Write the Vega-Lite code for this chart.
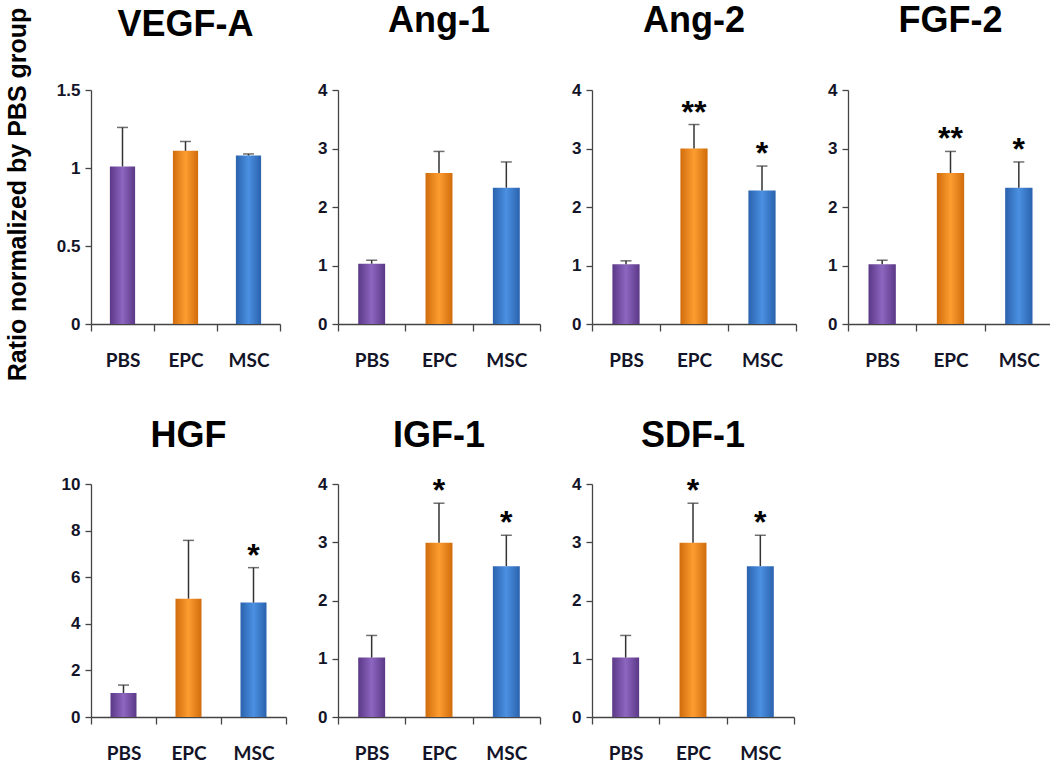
{
  "$schema": "https://vega.github.io/schema/vega-lite/v6.json",
  "autosize": {"type": "pad"},
  "padding": {"left": 4, "top": 3, "right": 4, "bottom": 5},
  "background": "white",
  "data": {"values": [
    {"factor": "VEGF-A", "group": "PBS", "mean": 1.01, "upper": 1.26, "sig": ""},
    {"factor": "VEGF-A", "group": "EPC", "mean": 1.11, "upper": 1.17, "sig": ""},
    {"factor": "VEGF-A", "group": "MSC", "mean": 1.08, "upper": 1.09, "sig": ""},
    {"factor": "Ang-1", "group": "PBS", "mean": 1.03, "upper": 1.09, "sig": ""},
    {"factor": "Ang-1", "group": "EPC", "mean": 2.58, "upper": 2.95, "sig": ""},
    {"factor": "Ang-1", "group": "MSC", "mean": 2.33, "upper": 2.77, "sig": ""},
    {"factor": "Ang-2", "group": "PBS", "mean": 1.02, "upper": 1.08, "sig": ""},
    {"factor": "Ang-2", "group": "EPC", "mean": 3.0, "upper": 3.41, "sig": "**"},
    {"factor": "Ang-2", "group": "MSC", "mean": 2.28, "upper": 2.7, "sig": "*"},
    {"factor": "FGF-2", "group": "PBS", "mean": 1.02, "upper": 1.09, "sig": ""},
    {"factor": "FGF-2", "group": "EPC", "mean": 2.58, "upper": 2.95, "sig": "**"},
    {"factor": "FGF-2", "group": "MSC", "mean": 2.33, "upper": 2.77, "sig": "*"},
    {"factor": "HGF", "group": "PBS", "mean": 1.03, "upper": 1.37, "sig": ""},
    {"factor": "HGF", "group": "EPC", "mean": 5.08, "upper": 7.58, "sig": ""},
    {"factor": "HGF", "group": "MSC", "mean": 4.91, "upper": 6.41, "sig": "*"},
    {"factor": "IGF-1", "group": "PBS", "mean": 1.02, "upper": 1.4, "sig": ""},
    {"factor": "IGF-1", "group": "EPC", "mean": 2.99, "upper": 3.67, "sig": "*"},
    {"factor": "IGF-1", "group": "MSC", "mean": 2.59, "upper": 3.12, "sig": "*"},
    {"factor": "SDF-1", "group": "PBS", "mean": 1.02, "upper": 1.4, "sig": ""},
    {"factor": "SDF-1", "group": "EPC", "mean": 2.99, "upper": 3.67, "sig": "*"},
    {"factor": "SDF-1", "group": "MSC", "mean": 2.59, "upper": 3.12, "sig": "*"}
  ]},
  "config": {
    "view": {"stroke": null},
    "title": {"font": "Liberation Sans", "fontSize": 36, "fontWeight": "bold", "color": "#000000", "anchor": "middle", "frame": "group", "baseline": "alphabetic"},
    "axis": {"grid": false, "domainColor": "#444444", "domainWidth": 1.3, "tickColor": "#444444", "tickWidth": 1.3, "labelColor": "#141428", "labelFontWeight": "bold"},
    "axisX": {"tickBand": "extent", "tickSize": 7, "labelPadding": 20, "labelFont": "Lato", "labelFontSize": 19, "labelAngle": 0, "title": null},
    "axisY": {"tickSize": 6, "labelPadding": 5, "labelFont": "Liberation Sans", "labelFontSize": 17, "format": "~f", "title": null},
    "tick": {"color": "#333333"},
    "rule": {"color": "#333333"}
  },
  "columns": 4,
  "align": "none",
  "bounds": "flush",
  "spacing": {"row": 160, "column": 52},
  "concat": [
    {
      "width": 189, "height": 234,
      "title": {"text": "VEGF-A", "offset": -37},
      "transform": [{"filter": "datum.factor === 'VEGF-A'"}],
      "encoding": {"x": {"field": "group", "type": "nominal", "sort": ["PBS", "EPC", "MSC"], "scale": {"paddingInner": 0, "paddingOuter": 0}}},
      "layer": [
        {"mark": {"type": "bar", "width": {"band": 0.4}},
         "encoding": {
           "y": {"field": "mean", "type": "quantitative", "scale": {"domain": [0, 1.5], "nice": false}, "axis": {"values": [0, 0.5, 1, 1.5], "title": "Ratio normalized by PBS group", "titleFont": "Liberation Sans", "titleFontSize": 25, "titleFontWeight": "bold", "titleColor": "#000000", "titleAngle": 270, "titleAlign": "center", "titleBaseline": "top", "titleX": -86, "titleY": 104}},
           "fill": {"condition": [
             {"test": "datum.group === 'PBS'", "value": {"gradient": "linear", "x1": 0, "x2": 1, "y1": 0, "y2": 0, "stops": [{"offset": 0, "color": "#5b3887"}, {"offset": 0.5, "color": "#8d66c0"}, {"offset": 1, "color": "#5b3887"}]}},
             {"test": "datum.group === 'EPC'", "value": {"gradient": "linear", "x1": 0, "x2": 1, "y1": 0, "y2": 0, "stops": [{"offset": 0, "color": "#d06c0c"}, {"offset": 0.5, "color": "#fd9d30"}, {"offset": 1, "color": "#d06c0c"}]}}],
             "value": {"gradient": "linear", "x1": 0, "x2": 1, "y1": 0, "y2": 0, "stops": [{"offset": 0, "color": "#2a62ad"}, {"offset": 0.5, "color": "#4b90e2"}, {"offset": 1, "color": "#2a62ad"}]}}
         }},
        {"mark": {"type": "rule", "strokeWidth": 1.5}, "encoding": {"y": {"field": "mean", "type": "quantitative"}, "y2": {"field": "upper"}}},
        {"mark": {"type": "tick", "orient": "horizontal", "size": 11, "thickness": 1.5}, "encoding": {"y": {"field": "upper", "type": "quantitative"}}},
        {"mark": {"type": "text", "font": "Liberation Sans", "fontSize": 32, "fontWeight": "bold", "color": "#000000", "baseline": "alphabetic", "dy": -2}, "encoding": {"y": {"field": "upper", "type": "quantitative"}, "text": {"field": "sig"}}}
      ]
    },
    {
      "width": 202, "height": 234,
      "title": {"text": "Ang-1", "offset": 41},
      "transform": [{"filter": "datum.factor === 'Ang-1'"}],
      "encoding": {"x": {"field": "group", "type": "nominal", "sort": ["PBS", "EPC", "MSC"], "scale": {"paddingInner": 0, "paddingOuter": 0}}},
      "layer": [
        {"mark": {"type": "bar", "width": {"band": 0.4}},
         "encoding": {
           "y": {"field": "mean", "type": "quantitative", "scale": {"domain": [0, 4], "nice": false}, "axis": {"values": [0, 1, 2, 3, 4]}},
           "fill": {"condition": [
             {"test": "datum.group === 'PBS'", "value": {"gradient": "linear", "x1": 0, "x2": 1, "y1": 0, "y2": 0, "stops": [{"offset": 0, "color": "#5b3887"}, {"offset": 0.5, "color": "#8d66c0"}, {"offset": 1, "color": "#5b3887"}]}},
             {"test": "datum.group === 'EPC'", "value": {"gradient": "linear", "x1": 0, "x2": 1, "y1": 0, "y2": 0, "stops": [{"offset": 0, "color": "#d06c0c"}, {"offset": 0.5, "color": "#fd9d30"}, {"offset": 1, "color": "#d06c0c"}]}}],
             "value": {"gradient": "linear", "x1": 0, "x2": 1, "y1": 0, "y2": 0, "stops": [{"offset": 0, "color": "#2a62ad"}, {"offset": 0.5, "color": "#4b90e2"}, {"offset": 1, "color": "#2a62ad"}]}}
         }},
        {"mark": {"type": "rule", "strokeWidth": 1.5}, "encoding": {"y": {"field": "mean", "type": "quantitative"}, "y2": {"field": "upper"}}},
        {"mark": {"type": "tick", "orient": "horizontal", "size": 11, "thickness": 1.5}, "encoding": {"y": {"field": "upper", "type": "quantitative"}}},
        {"mark": {"type": "text", "font": "Liberation Sans", "fontSize": 32, "fontWeight": "bold", "color": "#000000", "baseline": "alphabetic", "dy": -2}, "encoding": {"y": {"field": "upper", "type": "quantitative"}, "text": {"field": "sig"}}}
      ]
    },
    {
      "width": 204, "height": 234,
      "title": {"text": "Ang-2", "offset": 41},
      "transform": [{"filter": "datum.factor === 'Ang-2'"}],
      "encoding": {"x": {"field": "group", "type": "nominal", "sort": ["PBS", "EPC", "MSC"], "scale": {"paddingInner": 0, "paddingOuter": 0}}},
      "layer": [
        {"mark": {"type": "bar", "width": {"band": 0.4}},
         "encoding": {
           "y": {"field": "mean", "type": "quantitative", "scale": {"domain": [0, 4], "nice": false}, "axis": {"values": [0, 1, 2, 3, 4]}},
           "fill": {"condition": [
             {"test": "datum.group === 'PBS'", "value": {"gradient": "linear", "x1": 0, "x2": 1, "y1": 0, "y2": 0, "stops": [{"offset": 0, "color": "#5b3887"}, {"offset": 0.5, "color": "#8d66c0"}, {"offset": 1, "color": "#5b3887"}]}},
             {"test": "datum.group === 'EPC'", "value": {"gradient": "linear", "x1": 0, "x2": 1, "y1": 0, "y2": 0, "stops": [{"offset": 0, "color": "#d06c0c"}, {"offset": 0.5, "color": "#fd9d30"}, {"offset": 1, "color": "#d06c0c"}]}}],
             "value": {"gradient": "linear", "x1": 0, "x2": 1, "y1": 0, "y2": 0, "stops": [{"offset": 0, "color": "#2a62ad"}, {"offset": 0.5, "color": "#4b90e2"}, {"offset": 1, "color": "#2a62ad"}]}}
         }},
        {"mark": {"type": "rule", "strokeWidth": 1.5}, "encoding": {"y": {"field": "mean", "type": "quantitative"}, "y2": {"field": "upper"}}},
        {"mark": {"type": "tick", "orient": "horizontal", "size": 11, "thickness": 1.5}, "encoding": {"y": {"field": "upper", "type": "quantitative"}}},
        {"mark": {"type": "text", "font": "Liberation Sans", "fontSize": 32, "fontWeight": "bold", "color": "#000000", "baseline": "alphabetic", "dy": -2}, "encoding": {"y": {"field": "upper", "type": "quantitative"}, "text": {"field": "sig"}}}
      ]
    },
    {
      "width": 205, "height": 234,
      "title": {"text": "FGF-2", "offset": 41},
      "transform": [{"filter": "datum.factor === 'FGF-2'"}],
      "encoding": {"x": {"field": "group", "type": "nominal", "sort": ["PBS", "EPC", "MSC"], "scale": {"paddingInner": 0, "paddingOuter": 0}}},
      "layer": [
        {"mark": {"type": "bar", "width": {"band": 0.4}},
         "encoding": {
           "y": {"field": "mean", "type": "quantitative", "scale": {"domain": [0, 4], "nice": false}, "axis": {"values": [0, 1, 2, 3, 4]}},
           "fill": {"condition": [
             {"test": "datum.group === 'PBS'", "value": {"gradient": "linear", "x1": 0, "x2": 1, "y1": 0, "y2": 0, "stops": [{"offset": 0, "color": "#5b3887"}, {"offset": 0.5, "color": "#8d66c0"}, {"offset": 1, "color": "#5b3887"}]}},
             {"test": "datum.group === 'EPC'", "value": {"gradient": "linear", "x1": 0, "x2": 1, "y1": 0, "y2": 0, "stops": [{"offset": 0, "color": "#d06c0c"}, {"offset": 0.5, "color": "#fd9d30"}, {"offset": 1, "color": "#d06c0c"}]}}],
             "value": {"gradient": "linear", "x1": 0, "x2": 1, "y1": 0, "y2": 0, "stops": [{"offset": 0, "color": "#2a62ad"}, {"offset": 0.5, "color": "#4b90e2"}, {"offset": 1, "color": "#2a62ad"}]}}
         }},
        {"mark": {"type": "rule", "strokeWidth": 1.5}, "encoding": {"y": {"field": "mean", "type": "quantitative"}, "y2": {"field": "upper"}}},
        {"mark": {"type": "tick", "orient": "horizontal", "size": 11, "thickness": 1.5}, "encoding": {"y": {"field": "upper", "type": "quantitative"}}},
        {"mark": {"type": "text", "font": "Liberation Sans", "fontSize": 32, "fontWeight": "bold", "color": "#000000", "baseline": "alphabetic", "dy": -2}, "encoding": {"y": {"field": "upper", "type": "quantitative"}, "text": {"field": "sig"}}}
      ]
    },
    {
      "width": 195, "height": 233,
      "title": {"text": "HGF", "offset": 20},
      "transform": [{"filter": "datum.factor === 'HGF'"}],
      "encoding": {"x": {"field": "group", "type": "nominal", "sort": ["PBS", "EPC", "MSC"], "scale": {"paddingInner": 0, "paddingOuter": 0}}},
      "layer": [
        {"mark": {"type": "bar", "width": {"band": 0.4}},
         "encoding": {
           "y": {"field": "mean", "type": "quantitative", "scale": {"domain": [0, 10], "nice": false}, "axis": {"values": [0, 2, 4, 6, 8, 10]}},
           "fill": {"condition": [
             {"test": "datum.group === 'PBS'", "value": {"gradient": "linear", "x1": 0, "x2": 1, "y1": 0, "y2": 0, "stops": [{"offset": 0, "color": "#5b3887"}, {"offset": 0.5, "color": "#8d66c0"}, {"offset": 1, "color": "#5b3887"}]}},
             {"test": "datum.group === 'EPC'", "value": {"gradient": "linear", "x1": 0, "x2": 1, "y1": 0, "y2": 0, "stops": [{"offset": 0, "color": "#d06c0c"}, {"offset": 0.5, "color": "#fd9d30"}, {"offset": 1, "color": "#d06c0c"}]}}],
             "value": {"gradient": "linear", "x1": 0, "x2": 1, "y1": 0, "y2": 0, "stops": [{"offset": 0, "color": "#2a62ad"}, {"offset": 0.5, "color": "#4b90e2"}, {"offset": 1, "color": "#2a62ad"}]}}
         }},
        {"mark": {"type": "rule", "strokeWidth": 1.5}, "encoding": {"y": {"field": "mean", "type": "quantitative"}, "y2": {"field": "upper"}}},
        {"mark": {"type": "tick", "orient": "horizontal", "size": 11, "thickness": 1.5}, "encoding": {"y": {"field": "upper", "type": "quantitative"}}},
        {"mark": {"type": "text", "font": "Liberation Sans", "fontSize": 32, "fontWeight": "bold", "color": "#000000", "baseline": "alphabetic", "dy": -2}, "encoding": {"y": {"field": "upper", "type": "quantitative"}, "text": {"field": "sig"}}}
      ]
    },
    {
      "width": 202, "height": 233,
      "title": {"text": "IGF-1", "offset": 20},
      "transform": [{"filter": "datum.factor === 'IGF-1'"}],
      "encoding": {"x": {"field": "group", "type": "nominal", "sort": ["PBS", "EPC", "MSC"], "scale": {"paddingInner": 0, "paddingOuter": 0}}},
      "layer": [
        {"mark": {"type": "bar", "width": {"band": 0.4}},
         "encoding": {
           "y": {"field": "mean", "type": "quantitative", "scale": {"domain": [0, 4], "nice": false}, "axis": {"values": [0, 1, 2, 3, 4]}},
           "fill": {"condition": [
             {"test": "datum.group === 'PBS'", "value": {"gradient": "linear", "x1": 0, "x2": 1, "y1": 0, "y2": 0, "stops": [{"offset": 0, "color": "#5b3887"}, {"offset": 0.5, "color": "#8d66c0"}, {"offset": 1, "color": "#5b3887"}]}},
             {"test": "datum.group === 'EPC'", "value": {"gradient": "linear", "x1": 0, "x2": 1, "y1": 0, "y2": 0, "stops": [{"offset": 0, "color": "#d06c0c"}, {"offset": 0.5, "color": "#fd9d30"}, {"offset": 1, "color": "#d06c0c"}]}}],
             "value": {"gradient": "linear", "x1": 0, "x2": 1, "y1": 0, "y2": 0, "stops": [{"offset": 0, "color": "#2a62ad"}, {"offset": 0.5, "color": "#4b90e2"}, {"offset": 1, "color": "#2a62ad"}]}}
         }},
        {"mark": {"type": "rule", "strokeWidth": 1.5}, "encoding": {"y": {"field": "mean", "type": "quantitative"}, "y2": {"field": "upper"}}},
        {"mark": {"type": "tick", "orient": "horizontal", "size": 11, "thickness": 1.5}, "encoding": {"y": {"field": "upper", "type": "quantitative"}}},
        {"mark": {"type": "text", "font": "Liberation Sans", "fontSize": 32, "fontWeight": "bold", "color": "#000000", "baseline": "alphabetic", "dy": -2}, "encoding": {"y": {"field": "upper", "type": "quantitative"}, "text": {"field": "sig"}}}
      ]
    },
    {
      "width": 202, "height": 233,
      "title": {"text": "SDF-1", "offset": 20},
      "transform": [{"filter": "datum.factor === 'SDF-1'"}],
      "encoding": {"x": {"field": "group", "type": "nominal", "sort": ["PBS", "EPC", "MSC"], "scale": {"paddingInner": 0, "paddingOuter": 0}}},
      "layer": [
        {"mark": {"type": "bar", "width": {"band": 0.4}},
         "encoding": {
           "y": {"field": "mean", "type": "quantitative", "scale": {"domain": [0, 4], "nice": false}, "axis": {"values": [0, 1, 2, 3, 4]}},
           "fill": {"condition": [
             {"test": "datum.group === 'PBS'", "value": {"gradient": "linear", "x1": 0, "x2": 1, "y1": 0, "y2": 0, "stops": [{"offset": 0, "color": "#5b3887"}, {"offset": 0.5, "color": "#8d66c0"}, {"offset": 1, "color": "#5b3887"}]}},
             {"test": "datum.group === 'EPC'", "value": {"gradient": "linear", "x1": 0, "x2": 1, "y1": 0, "y2": 0, "stops": [{"offset": 0, "color": "#d06c0c"}, {"offset": 0.5, "color": "#fd9d30"}, {"offset": 1, "color": "#d06c0c"}]}}],
             "value": {"gradient": "linear", "x1": 0, "x2": 1, "y1": 0, "y2": 0, "stops": [{"offset": 0, "color": "#2a62ad"}, {"offset": 0.5, "color": "#4b90e2"}, {"offset": 1, "color": "#2a62ad"}]}}
         }},
        {"mark": {"type": "rule", "strokeWidth": 1.5}, "encoding": {"y": {"field": "mean", "type": "quantitative"}, "y2": {"field": "upper"}}},
        {"mark": {"type": "tick", "orient": "horizontal", "size": 11, "thickness": 1.5}, "encoding": {"y": {"field": "upper", "type": "quantitative"}}},
        {"mark": {"type": "text", "font": "Liberation Sans", "fontSize": 32, "fontWeight": "bold", "color": "#000000", "baseline": "alphabetic", "dy": -2}, "encoding": {"y": {"field": "upper", "type": "quantitative"}, "text": {"field": "sig"}}}
      ]
    }
  ]
}
